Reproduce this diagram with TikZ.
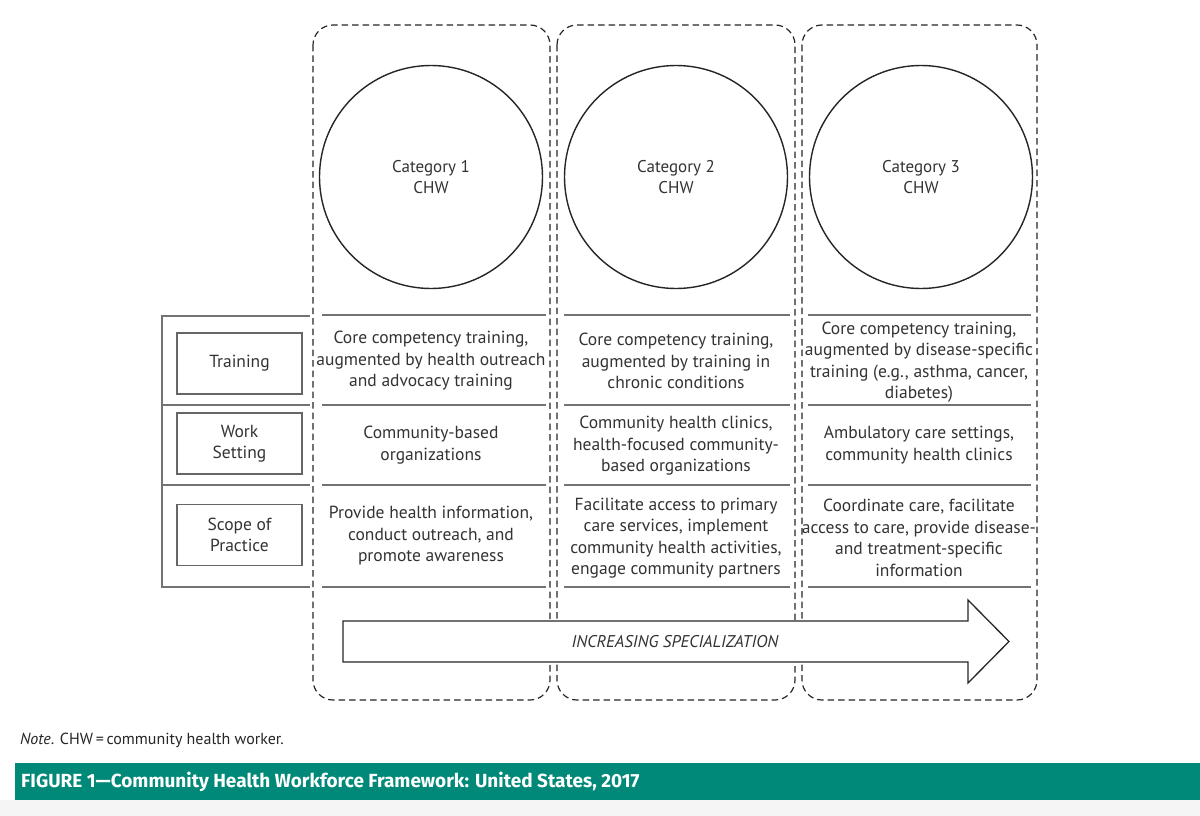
\documentclass[tikz,border=0pt]{standalone}
\usepackage{fontspec}
\setmainfont{PT Sans}
\newfontfamily\capfont{Fira Sans}
\begin{document}
\begin{tikzpicture}[x=1pt,y=-1pt,
  col/.style={draw=black!85, dash pattern=on 6.5pt off 4pt, line width=1.2pt, rounded corners=20pt},
  cat/.style={circle, draw=black!85, line width=1.4pt, minimum size=223pt, inner sep=0pt, align=center, font=\fontsize{17}{21}\selectfont, text=black!80},
  rowline/.style={draw=black!55, line width=1.5pt},
  lbl/.style={draw=black!60, line width=1.5pt, minimum width=125pt, minimum height=61pt, inner sep=0pt, align=center, font=\fontsize{17.5}{21}\selectfont, text=black!80},
  cell/.style={align=center, font=\fontsize{17.5}{21.5}\selectfont, text=black!80, inner sep=0pt},
  arrowbody/.style={draw=black!85, line width=1.3pt, fill=white}
]
\useasboundingbox (0,0) rectangle (1200,816);
\fill[white] (0,0) rectangle (1200,816);

% columns
\draw[col] (313,25) rectangle (550,700);
\draw[col] (557,25) rectangle (795,700);
\draw[col] (802,25) rectangle (1037,700);

% circles
\node[cat] (c1) at (431,177) {Category 1\\CHW};
\node[cat] (c2) at (676,177) {Category 2\\CHW};
\node[cat] (c3) at (921,177) {Category 3\\CHW};

% left bracket
\coordinate (b1) at (162,316);
\coordinate (b2) at (162,587);
\draw[rowline] (310,316) -- (b1) -- (b2) -- (310,587);
\draw[rowline] (162,405) -- (310,405);
\draw[rowline] (162,485) -- (310,485);

% row lines in columns
\foreach \y in {315,405,485,587} {
  \draw[rowline] (322,\y) -- (546,\y);
  \draw[rowline] (564,\y) -- (790,\y);
  \draw[rowline] (808,\y) -- (1031,\y);
}

% labels
\node[lbl] (l1) at (239.5,363.5) {Training};
\node[lbl] (l2) at (239.5,443.5) {Work\\Setting};
\node[lbl] (l3) at (239.5,535) {Scope of\\Practice};

% cells
\node[cell] (t1) at (431,361) {Core competency training,\\augmented by health outreach\\and advocacy training};
\node[cell] (t2) at (676,361) {Core competency training,\\augmented by training in\\chronic conditions};
\node[cell] (t3) at (919,362) {Core competency training,\\augmented by disease-specific\\training (e.g., asthma, cancer,\\diabetes)};
\node[cell] (w1) at (431,445) {Community-based\\organizations};
\node[cell] (w2) at (676,446) {Community health clinics,\\health-focused community-\\based organizations};
\node[cell] (w3) at (919,445) {Ambulatory care settings,\\community health clinics};
\node[cell] (s1) at (431,536) {Provide health information,\\conduct outreach, and\\promote awareness};
\node[cell] (s2) at (676,538) {Facilitate access to primary\\care services, implement\\community health activities,\\engage community partners};
\node[cell] (s3) at (919,538) {Coordinate care, facilitate\\access to care, provide disease-\\and treatment-specific\\information};

% arrow
\draw[arrowbody] (343,621) -- (968,621) -- (968,600) -- (1009,641.5) -- (968,683) -- (968,662) -- (343,662) -- cycle;
\node[cell, font=\fontsize{17}{20}\selectfont\itshape] (ar) at (675,641.5) {INCREASING SPECIALIZATION};

% note
\node[anchor=west, inner sep=0pt, font=\fontsize{16}{18}\selectfont, text=black!85] (note) at (20,740) {\textit{Note}. CHW\,=\,community health worker.};

% caption bar
\fill[gray!8] (0,800) rectangle (1200,816);
\fill[black!4] (0,801) rectangle (1200,805);
\node[anchor=west, fill={rgb,255:red,0;green,137;blue,120}, minimum width=1185pt, minimum height=37pt, inner sep=0pt, outer sep=0pt] (bar) at (15,781.5) {};
\node[anchor=west, inner sep=0pt, text=white, font=\capfont\fontsize{19}{21}\selectfont\bfseries] (cap) at (21,781.5) {FIGURE 1—Community Health Workforce Framework: United States, 2017};
\end{tikzpicture}
\end{document}
